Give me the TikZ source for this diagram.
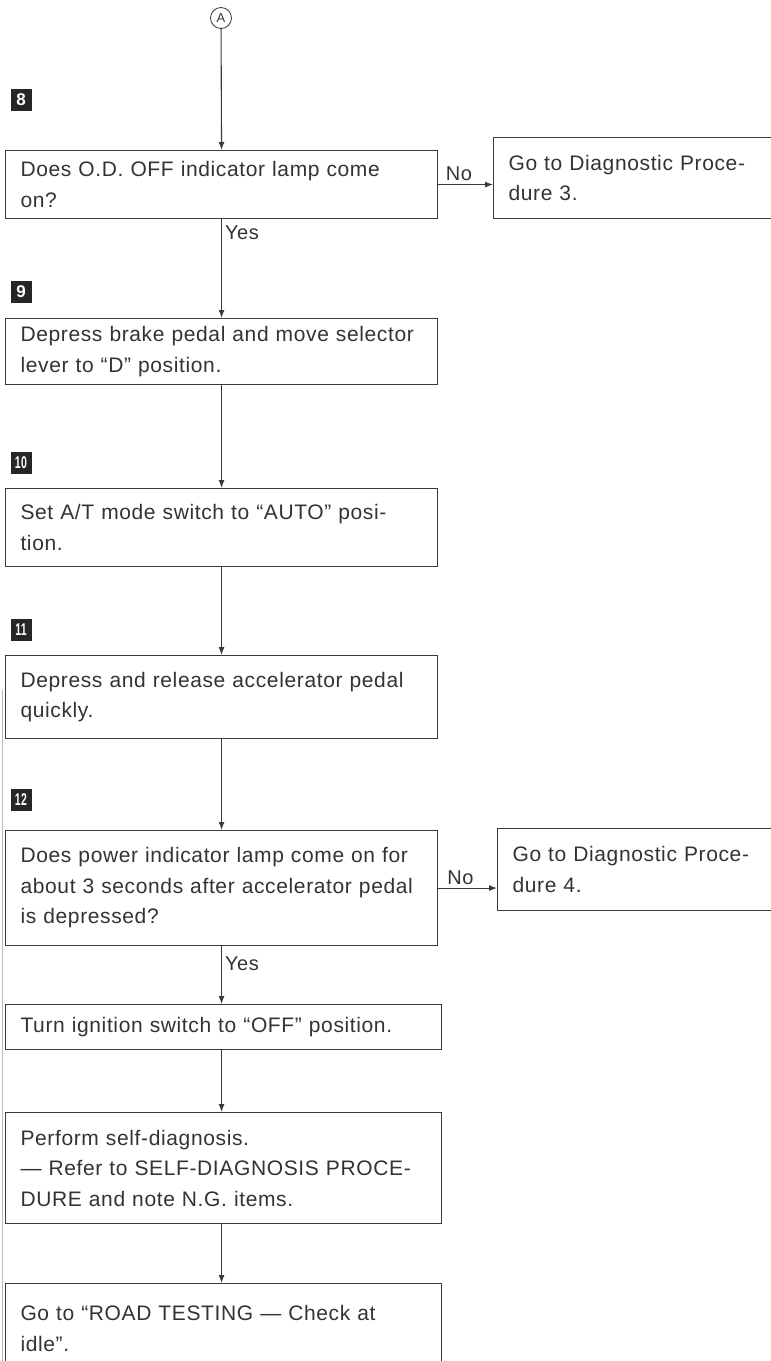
\documentclass[tikz,border=0pt]{standalone}
\usepackage{fontspec}
\usepackage{graphicx}
\setmainfont{Liberation Sans}[LetterSpace=3]
\usetikzlibrary{arrows.meta,calc}
\definecolor{linec}{HTML}{3A3A3A}
\definecolor{txtc}{HTML}{333333}
\begin{document}
\begin{tikzpicture}[x=1pt,y=-1pt,
  box/.style={draw=linec, line width=1.1pt, anchor=north west, align=left,
    inner xsep=15pt, inner ysep=0pt, text=txtc,
    font=\fontsize{21}{30.5}\selectfont},
  steplbl/.style={fill=black!85, text=white, minimum width=21pt, minimum height=22pt,
    inner sep=0pt, font=\fontsize{17}{17}\selectfont\bfseries},
  lbl/.style={text=txtc, inner sep=3pt, font=\fontsize{20}{20}\selectfont},
  arr/.style={draw=linec, line width=1.1pt, -{Latex[length=8pt,width=6pt]}}
]
\useasboundingbox (0,0) rectangle (771,1361);
\fill[white] (0,0) rectangle (771,1361);

% left page edge line
\draw[gray!55, line width=0.8pt] (2,690) -- (2,1361);

% connector start
\node[circle, draw=linec, line width=0.8pt, minimum size=21pt, inner sep=0pt,
  text=txtc, font=\fontsize{13}{13}\selectfont] (A) at (221,18) {A};

% step labels
\node[steplbl] (s8) at (21,100) {8};
\node[steplbl] (s9) at (21,292) {9};
\node[steplbl] (s10) at (21,463) {\scalebox{0.62}[1]{10}};
\node[steplbl] (s11) at (21,630) {\scalebox{0.62}[1]{11}};
\node[steplbl] (s12) at (21,800) {\scalebox{0.62}[1]{12}};

% boxes
\node[box, text width=402pt, minimum height=68pt] (b8) at (5,150)
  {Does O.D. OFF indicator lamp come\\on?};
\node[box, text width=260pt, minimum height=81pt] (n3) at (493,137)
  {Go to Diagnostic Proce-\\dure 3.};
\node[box, text width=402pt, minimum height=66pt] (b9) at (5,318)
  {Depress brake pedal and move selector\\lever to ``D'' position.};
\node[box, text width=402pt, minimum height=78pt] (b10) at (5,488)
  {Set A/T mode switch to ``AUTO'' posi-\\tion.};
\node[box, text width=402pt, minimum height=83pt] (b11) at (5,655)
  {Depress and release accelerator pedal\\quickly.};
\node[box, text width=402pt, minimum height=115pt] (b12) at (5,830)
  {Does power indicator lamp come on for\\about 3 seconds after accelerator pedal\\is depressed?};
\node[box, text width=260pt, minimum height=82pt] (n4) at (497,828)
  {Go to Diagnostic Proce-\\dure 4.};
\node[box, text width=406pt, minimum height=45pt] (bt) at (5,1004)
  {Turn ignition switch to ``OFF'' position.};
\node[box, text width=406pt, minimum height=111pt] (bp) at (5,1112)
  {Perform self-diagnosis.\\--- Refer to SELF-DIAGNOSIS PROCE-\\DURE and note N.G. items.};
\node[box, text width=406pt, minimum height=90pt] (br) at (5,1283)
  {Go to ``ROAD TESTING --- Check at\\idle''.};

% connectors
\draw[arr] (A) -- (b8.north);
\draw[arr] (b8.east) -- node[lbl, pos=0.38, above] {No} (b8.east -| n3.west);
\draw[arr] (b8.south) -- node[lbl, pos=0.14, right] {Yes} (b9.north);
\draw[arr] (b9.south) -- (b10.north);
\draw[arr] (b10.south) -- (b11.north);
\draw[arr] (b11.south) -- (b12.north);
\draw[arr] (b12.east) -- node[lbl, pos=0.38, above] {No} (b12.east -| n4.west);
\draw[arr] (b12.south) -- node[lbl, pos=0.3, right] {Yes} (b12.south |- bt.north);
\draw[arr] (bt.south -| b12.south) -- (b12.south |- bp.north);
\draw[arr] (bp.south -| b12.south) -- (b12.south |- br.north);
\end{tikzpicture}
\end{document}
